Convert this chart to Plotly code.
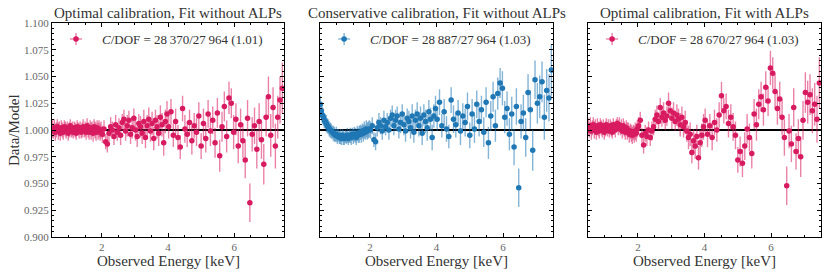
import plotly.graph_objects as go

# ---------------- data ----------------
E_LOW = [0.51, 0.54, 0.57, 0.60, 0.63, 0.66, 0.69, 0.72, 0.75, 0.78,
         0.81, 0.84, 0.87, 0.90, 0.93, 0.96, 0.99, 1.02, 1.05, 1.08,
         1.11, 1.14, 1.17, 1.20, 1.23, 1.26, 1.29, 1.32, 1.35, 1.38,
         1.41, 1.44, 1.47, 1.50, 1.53, 1.56, 1.59, 1.62, 1.65, 1.68,
         1.71, 1.74, 1.77, 1.80, 1.83, 1.86, 1.89, 1.92, 1.95, 1.98]
E_MID = [2.02, 2.07, 2.12, 2.17, 2.22, 2.27, 2.32, 2.37, 2.42, 2.47,
         2.52, 2.57, 2.62, 2.67, 2.72, 2.77, 2.82, 2.87, 2.92, 2.97,
         3.02, 3.07, 3.12, 3.17, 3.22, 3.27, 3.32, 3.37, 3.42, 3.47,
         3.52, 3.57, 3.62, 3.67, 3.72, 3.77, 3.82, 3.87, 3.92, 3.97]
E_HIGH = [4.02, 4.09, 4.16, 4.23, 4.30, 4.37, 4.44, 4.51, 4.58, 4.65,
          4.72, 4.79, 4.86, 4.93, 5.00, 5.07, 5.14, 5.21, 5.28, 5.35,
          5.42, 5.49, 5.56, 5.63, 5.70, 5.77, 5.84, 5.91, 5.98, 6.05,
          6.12, 6.19, 6.26, 6.33, 6.40, 6.47, 6.54, 6.61, 6.68, 6.75,
          6.82, 6.89, 6.96, 7.03, 7.10, 7.17, 7.24, 7.31, 7.38, 7.45]

ERR_LOW = [0.008, 0.007, 0.008, 0.008, 0.007, 0.007, 0.008, 0.007, 0.007, 0.007,
           0.007, 0.007, 0.006, 0.007, 0.007, 0.006, 0.007, 0.007, 0.006, 0.006,
           0.007, 0.006, 0.006, 0.007, 0.006, 0.006, 0.006, 0.007, 0.006, 0.006,
           0.007, 0.007, 0.006, 0.007, 0.007, 0.007, 0.007, 0.007, 0.007, 0.008,
           0.007, 0.008, 0.007, 0.008, 0.008, 0.007, 0.008, 0.008, 0.008, 0.008]
ERR_MID = [0.008, 0.008, 0.007, 0.008, 0.008, 0.009, 0.008, 0.008, 0.009, 0.008,
           0.009, 0.009, 0.008, 0.009, 0.009, 0.010, 0.009, 0.009, 0.010, 0.009,
           0.010, 0.010, 0.009, 0.010, 0.010, 0.011, 0.010, 0.010, 0.011, 0.010,
           0.011, 0.011, 0.010, 0.011, 0.012, 0.011, 0.011, 0.012, 0.011, 0.012]
ERR_HIGH = [0.011, 0.012, 0.011, 0.012, 0.012, 0.011, 0.012, 0.013, 0.012, 0.012,
            0.013, 0.012, 0.013, 0.013, 0.012, 0.014, 0.013, 0.013, 0.014, 0.013,
            0.014, 0.014, 0.015, 0.014, 0.014, 0.015, 0.015, 0.014, 0.016, 0.015,
            0.016, 0.015, 0.016, 0.017, 0.017, 0.018, 0.016, 0.017, 0.018, 0.017,
            0.018, 0.019, 0.018, 0.019, 0.020, 0.019, 0.021, 0.020, 0.022, 0.024]

# Panel 1: optimal calibration, fit without ALPs
OPT_NOALP_LOW = [1.001, 0.999, 1.002, 0.998, 1.000, 1.003, 0.999, 1.001, 0.997, 1.002,
                 1.000, 0.998, 1.003, 1.001, 0.999, 1.002, 0.997, 1.000, 1.004, 0.999,
                 1.001, 0.998, 1.002, 1.000, 0.997, 1.003, 1.001, 0.999, 1.002, 0.998,
                 1.000, 1.003, 0.999, 1.001, 0.998, 1.004, 1.000, 0.998, 1.002, 0.999,
                 1.001, 0.997, 1.003, 1.000, 0.998, 1.002, 0.999, 1.001, 0.998, 1.000]
OPT_NOALP_MID = [0.996, 1.001, 0.989, 0.987, 0.997, 1.003, 1.000, 0.994, 1.005, 0.998,
                 1.002, 0.995, 1.007, 1.010, 0.999, 1.004, 1.009, 0.996, 1.002, 1.011,
                 1.000, 0.994, 1.006, 1.003, 0.997, 1.008, 0.993, 1.004, 1.010, 0.999,
                 1.006, 0.992, 1.009, 1.003, 0.997, 1.012, 1.005, 0.988, 1.008, 1.015]
OPT_NOALP_HIGH = [1.003, 1.017, 0.995, 1.008, 0.993, 0.984, 1.020, 1.001, 0.996, 1.007,
                  0.990, 1.004, 0.998, 1.013, 0.985, 1.006, 0.992, 1.015, 0.999, 1.009,
                  0.988, 1.016, 0.976, 1.003, 1.022, 0.994, 1.030, 1.025, 0.998, 1.010,
                  0.985, 1.005, 0.990, 0.972, 1.011, 0.932, 0.996, 1.004, 0.982, 1.008,
                  0.991, 0.968, 1.012, 1.031, 0.995, 1.021, 0.985, 1.012, 1.028, 1.039]

# Panel 2: conservative calibration, fit without ALPs
CONS_NOALP_LOW = [1.024, 1.018, 1.014, 1.012, 1.009, 1.008, 1.006, 1.004, 1.003, 1.001,
                  1.000, 0.999, 0.998, 0.997, 0.996, 0.995, 0.996, 0.994, 0.995, 0.993,
                  0.994, 0.992, 0.995, 0.993, 0.992, 0.994, 0.993, 0.995, 0.992, 0.994,
                  0.995, 0.993, 0.996, 0.994, 0.996, 0.995, 0.993, 0.997, 0.995, 0.996,
                  0.998, 0.996, 0.999, 0.997, 1.000, 0.998, 1.001, 0.999, 1.000, 1.001]
CONS_NOALP_MID = [1.000, 1.004, 0.991, 0.989, 1.002, 1.007, 1.004, 0.999, 1.009, 1.003,
                  1.007, 1.000, 1.011, 1.014, 1.004, 1.009, 1.013, 1.001, 1.007, 1.015,
                  1.005, 0.999, 1.011, 1.008, 1.002, 1.013, 0.998, 1.009, 1.015, 1.004,
                  1.011, 0.997, 1.014, 1.008, 1.002, 1.017, 1.010, 0.993, 1.013, 1.020]
CONS_NOALP_HIGH = [1.010, 1.026, 1.004, 1.017, 1.001, 0.994, 1.028, 1.010, 1.005, 1.016,
                   0.999, 1.013, 1.007, 1.022, 0.995, 1.015, 1.001, 1.024, 1.008, 1.019,
                   0.998, 1.026, 0.988, 1.013, 1.031, 1.004, 1.034, 1.044, 1.039, 1.012,
                   1.020, 0.996, 1.015, 0.984, 1.022, 0.946, 1.008, 1.016, 0.993, 1.035,
                   1.019, 0.981, 1.047, 1.025, 1.031, 1.045, 1.012, 1.037, 1.030, 1.056]

# Panel 3: optimal calibration, fit with ALPs
OPT_ALP_LOW = [1.003, 1.000, 1.004, 0.999, 1.002, 1.005, 1.000, 1.003, 0.998, 1.004,
               1.001, 0.999, 1.005, 1.002, 1.000, 1.004, 0.998, 1.001, 1.005, 1.000,
               1.003, 0.999, 1.004, 1.001, 0.998, 1.005, 1.002, 1.000, 1.004, 1.006,
               1.002, 1.005, 1.001, 1.003, 0.999, 1.004, 1.001, 0.998, 1.002, 0.999,
               1.000, 0.996, 0.999, 0.997, 0.995, 0.998, 0.996, 0.999, 0.997, 1.001]
OPT_ALP_MID = [1.004, 1.009, 0.995, 0.986, 0.997, 0.994, 1.000, 0.993, 0.999, 1.003,
               1.010, 1.014, 1.008, 1.021, 1.012, 1.016, 1.009, 1.013, 1.025, 1.018,
               1.011, 1.016, 1.008, 1.014, 1.010, 1.005, 1.012, 1.003, 1.007, 0.999,
               0.993, 0.996, 0.979, 0.990, 0.985, 0.994, 0.974, 0.988, 0.995, 1.003]
OPT_ALP_HIGH = [1.009, 0.996, 1.004, 0.993, 1.007, 1.000, 1.014, 1.032, 1.018, 1.022,
                1.006, 1.012, 1.003, 0.995, 0.972, 0.980, 0.969, 0.985, 1.001, 0.993,
                0.978, 1.015, 1.005, 1.024, 1.031, 1.019, 1.040, 1.027, 1.058, 1.053,
                1.036, 1.020, 1.029, 1.012, 0.993, 0.948, 0.999, 0.987, 1.021, 0.980,
                0.992, 0.975, 1.009, 1.035, 1.026, 1.033, 1.018, 1.024, 1.010, 1.044]

TITLES = ["Optimal calibration, Fit without ALPs",
          "Conservative calibration, Fit without ALPs",
          "Optimal calibration, Fit with ALPs"]
LEGEND_TEXT = ["<i>C</i>/DOF = 28\u2009370/27\u2009964 (1.01)",
               "<i>C</i>/DOF = 28\u2009887/27\u2009964 (1.03)",
               "<i>C</i>/DOF = 28\u2009670/27\u2009964 (1.03)"]
Y_TICKS = [0.900, 0.925, 0.950, 0.975, 1.000, 1.025, 1.050, 1.075, 1.100]
X_TICKS = [2, 4, 6]

energy = E_LOW + E_MID + E_HIGH
errors = ERR_LOW + ERR_MID + ERR_HIGH
series = [OPT_NOALP_LOW + OPT_NOALP_MID + OPT_NOALP_HIGH,
          CONS_NOALP_LOW + CONS_NOALP_MID + CONS_NOALP_HIGH,
          OPT_ALP_LOW + OPT_ALP_MID + OPT_ALP_HIGH]

# ---------------- style ----------------
PINK = "#D81B60"
PINK_E = "rgba(216,27,96,0.55)"
BLUE = "#1F77B4"
BLUE_E = "rgba(31,119,180,0.55)"
colors = [(PINK, PINK_E), (BLUE, BLUE_E), (PINK, PINK_E)]
FONT = "Liberation Serif"
TXT = "#333"

W, H = 830, 277
ML, MR, MT, MB = 52, 9, 23, 40
plot_w = W - ML - MR
px = lambda p: (p - ML) / plot_w
domains = [[0.0, px(284)], [px(320), px(553)], [px(588), 1.0]]

fig = go.Figure()
shapes = []
annotations = []
for i in range(3):
    sfx = "" if i == 0 else str(i + 1)
    mc, ec = colors[i]
    xr, yr = "x" + sfx, "y" + sfx
    # reference line at 1
    shapes.append(dict(type="line", xref=xr + " domain", yref=yr, x0=0, x1=1, y0=1, y1=1,
                       line=dict(color="black", width=2), layer="below"))
    fig.add_trace(go.Scatter(
        x=energy, y=series[i], mode="markers",
        xaxis=xr, yaxis=yr,
        marker=dict(color=mc, size=5.5, line=dict(width=0)),
        error_y=dict(type="data", array=errors, color=ec, thickness=1.4, width=0),
        showlegend=False, hoverinfo="skip"))

    common = dict(showline=True, linecolor="black", linewidth=1, mirror="allticks",
                  ticks="inside", ticklen=4, tickwidth=1, tickcolor="black",
                  showgrid=False, zeroline=False,
                  tickfont=dict(family=FONT, size=11, color="#666"))
    fig.update_layout(**{
        "xaxis" + sfx: dict(domain=domains[i], range=[0.5, 7.5], anchor=yr,
                            tickvals=X_TICKS,
                            minor=dict(ticks="inside", ticklen=2, dtick=0.5, tick0=0,
                                       tickcolor="black"),
                            **common),
        "yaxis" + sfx: dict(domain=[0, 1], range=[0.9, 1.1], anchor=xr,
                            tickvals=Y_TICKS, tickformat=".3f",
                            showticklabels=(i == 0),
                            minor=dict(ticks="inside", ticklen=2, dtick=0.005, tick0=0.9,
                                       tickcolor="black"),
                            **common),
    })
    # legend glyph (errorbar cross + marker)
    lx, ly = 24 / 232, 1 - 16 / 214
    for (x0, x1, y0, y1) in [(-6, 6, 0, 0), (0, 0, -6, 6)]:
        shapes.append(dict(type="line", xref=xr + " domain", yref=yr + " domain",
                           xsizemode="pixel", ysizemode="pixel", xanchor=lx, yanchor=ly,
                           x0=x0, x1=x1, y0=y0, y1=y1, line=dict(color=ec, width=1.4)))
    shapes.append(dict(type="circle", xref=xr + " domain", yref=yr + " domain",
                       xsizemode="pixel", ysizemode="pixel", xanchor=lx, yanchor=ly,
                       x0=-2.8, x1=2.8, y0=-2.8, y1=2.8,
                       fillcolor=mc, line=dict(width=0)))
    annotations.append(dict(xref=xr + " domain", yref=yr + " domain", x=48 / 232, y=ly,
                            xanchor="left", yanchor="middle", showarrow=False,
                            text=LEGEND_TEXT[i],
                            font=dict(family=FONT, size=13, color=TXT)))
    # title
    annotations.append(dict(xref=xr + " domain", yref=yr + " domain", x=0.5, y=1,
                            xanchor="center", yanchor="bottom", showarrow=False, yshift=0,
                            text=TITLES[i], font=dict(family=FONT, size=15, color=TXT)))
    # x axis label
    annotations.append(dict(xref=xr + " domain", yref="paper", x=0.5, y=0,
                            xanchor="center", yanchor="middle", showarrow=False, yshift=-24,
                            text="Observed Energy [keV]",
                            font=dict(family=FONT, size=15, color=TXT)))

annotations.append(dict(xref="paper", yref="paper", x=px(14), y=0.5, xanchor="center",
                        yanchor="middle", showarrow=False, textangle=-90,
                        text="Data/Model", font=dict(family=FONT, size=15, color=TXT)))

fig.update_layout(width=W, height=H, margin=dict(l=ML, r=MR, t=MT, b=MB),
                  paper_bgcolor="white", plot_bgcolor="white",
                  shapes=shapes, annotations=annotations, showlegend=False)

fig.write_html("out.html", config={"displayModeBar": False, "staticPlot": True},
               post_script="document.body.style.margin='0';")
